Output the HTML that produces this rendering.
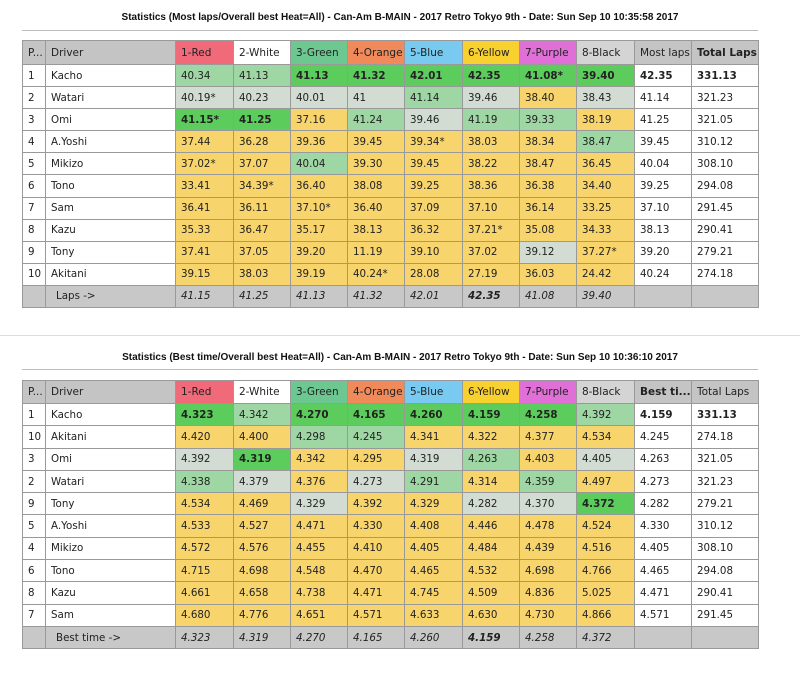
<!DOCTYPE html>
<html><head><meta charset="utf-8">
<style>
body{margin:0;width:800px;height:679px;background:#fff;font-family:"DejaVu Sans","Liberation Sans",sans-serif;position:relative;overflow:hidden}
.title{position:absolute;left:0;width:800px;text-align:center;font:bold 10px "Liberation Sans",sans-serif;color:#111}
.rule{position:absolute;left:22px;width:736px;height:1px;background:#bbb}
table{position:absolute;left:22px;width:736px;border-collapse:collapse;table-layout:fixed;font-size:10.3px;color:#222}
td{border:1px solid #999;padding:0 0 0 5px;white-space:nowrap;overflow:hidden}
.h td{background:#c4c4c4;font-size:10.5px}
.foot td{background:#c8c8c8;font-style:italic}
.B{background:#5ccc5c;font-weight:bold}.L{background:#9ed6a4}.P{background:#d2dcd2}.Y{background:#f8d46c}
.sep{position:absolute;left:0;top:335px;width:800px;height:1px;background:#ddd}
</style></head><body>
<div class="title" style="top:12px">Statistics (Most laps/Overall best Heat=All) - Can-Am B-MAIN - 2017 Retro Tokyo 9th - Date: Sun Sep 10 10:35:58 2017</div>
<div class="rule" style="top:30px"></div>
<div class="sep"></div>
<div class="title" style="top:352px">Statistics (Best time/Overall best Heat=All) - Can-Am B-MAIN - 2017 Retro Tokyo 9th - Date: Sun Sep 10 10:36:10 2017</div>
<div class="rule" style="top:369px"></div>
<table id="t1" style="top:40px"></table>
<table id="t2" style="top:380px"></table>
<script>
var W=[23,130,58,57,57,57,58,57,57,58,57,67];
var hc=['#f06a7a','#fff','#6cc890','#f08a5a','#78caf0','#f8d030','#e070d8','#d4d4d4'];
var cols=['1-Red','2-White','3-Green','4-Orange','5-Blue','6-Yellow','7-Purple','8-Black'];
function build(id,hdr,rows,foot,rh,hh){
 var t=document.getElementById(id),s='<colgroup>'+W.map(w=>'<col style="width:'+w+'px">').join('')+'</colgroup>';
 s+='<tr class="h" style="height:'+hh+'px"><td>P...</td><td>Driver</td>';
 cols.forEach((c,i)=>s+='<td style="background:'+hc[i]+'">'+c+'</td>');
 s+=hdr+'</tr>';
 rows.forEach(r=>{s+='<tr style="height:'+rh+'px"><td>'+r[0]+'</td><td>'+r[1]+'</td>';
  for(var i=0;i<8;i++){var v=r[2][i],c=r[3][i];s+='<td class="'+c+'">'+v+'</td>';}
  s+='<td'+(r[5]?' style="font-weight:bold"':'')+'>'+r[4][0]+'</td><td'+(r[5]?' style="font-weight:bold"':'')+'>'+r[4][1]+'</td></tr>';});
 s+='<tr class="foot" style="height:'+rh+'px"><td></td><td style="font-style:normal;padding-left:10px">'+foot[0]+'</td>';
 foot[1].forEach((v,i)=>s+='<td'+(i==5?' style="font-weight:bold"':'')+'>'+v+'</td>');
 s+='<td></td><td></td></tr>';t.innerHTML=s;}
var Y='YYYYYYYY'.split('');
build('t1','<td>Most laps</td><td style="font-weight:bold">Total Laps</td>',[
['1','Kacho',['40.34','41.13','41.13','41.32','42.01','42.35','41.08*','39.40'],'LLBBBBBB'.split(''),['42.35','331.13'],1],
['2','Watari',['40.19*','40.23','40.01','41','41.14','39.46','38.40','38.43'],'PPPPLPYP'.split(''),['41.14','321.23']],
['3','Omi',['41.15*','41.25','37.16','41.24','39.46','41.19','39.33','38.19'],'BBYLPLLY'.split(''),['41.25','321.05']],
['4','A.Yoshi',['37.44','36.28','39.36','39.45','39.34*','38.03','38.34','38.47'],'YYYYYYYL'.split(''),['39.45','310.12']],
['5','Mikizo',['37.02*','37.07','40.04','39.30','39.45','38.22','38.47','36.45'],'YYLYYYYY'.split(''),['40.04','308.10']],
['6','Tono',['33.41','34.39*','36.40','38.08','39.25','38.36','36.38','34.40'],Y,['39.25','294.08']],
['7','Sam',['36.41','36.11','37.10*','36.40','37.09','37.10','36.14','33.25'],Y,['37.10','291.45']],
['8','Kazu',['35.33','36.47','35.17','38.13','36.32','37.21*','35.08','34.33'],Y,['38.13','290.41']],
['9','Tony',['37.41','37.05','39.20','11.19','39.10','37.02','39.12','37.27*'],'YYYYYYPY'.split(''),['39.20','279.21']],
['10','Akitani',['39.15','38.03','39.19','40.24*','28.08','27.19','36.03','24.42'],Y,['40.24','274.18']]
],['Laps -&gt;',['41.15','41.25','41.13','41.32','42.01','42.35','41.08','39.40']],22.1,24);
build('t2','<td style="font-weight:bold">Best ti...</td><td>Total Laps</td>',[
['1','Kacho',['4.323','4.342','4.270','4.165','4.260','4.159','4.258','4.392'],'BLBBBBBL'.split(''),['4.159','331.13'],1],
['10','Akitani',['4.420','4.400','4.298','4.245','4.341','4.322','4.377','4.534'],'YYLLYYYY'.split(''),['4.245','274.18']],
['3','Omi',['4.392','4.319','4.342','4.295','4.319','4.263','4.403','4.405'],'PBYYPLYP'.split(''),['4.263','321.05']],
['2','Watari',['4.338','4.379','4.376','4.273','4.291','4.314','4.359','4.497'],'LPYPLYLY'.split(''),['4.273','321.23']],
['9','Tony',['4.534','4.469','4.329','4.392','4.329','4.282','4.370','4.372'],'YYPYYPPB'.split(''),['4.282','279.21']],
['5','A.Yoshi',['4.533','4.527','4.471','4.330','4.408','4.446','4.478','4.524'],Y,['4.330','310.12']],
['4','Mikizo',['4.572','4.576','4.455','4.410','4.405','4.484','4.439','4.516'],Y,['4.405','308.10']],
['6','Tono',['4.715','4.698','4.548','4.470','4.465','4.532','4.698','4.766'],Y,['4.465','294.08']],
['8','Kazu',['4.661','4.658','4.738','4.471','4.745','4.509','4.836','5.025'],Y,['4.471','290.41']],
['7','Sam',['4.680','4.776','4.651','4.571','4.633','4.630','4.730','4.866'],Y,['4.571','291.45']]
],['Best time -&gt;',['4.323','4.319','4.270','4.165','4.260','4.159','4.258','4.372']],22.3,23);
</script>
</body></html>
